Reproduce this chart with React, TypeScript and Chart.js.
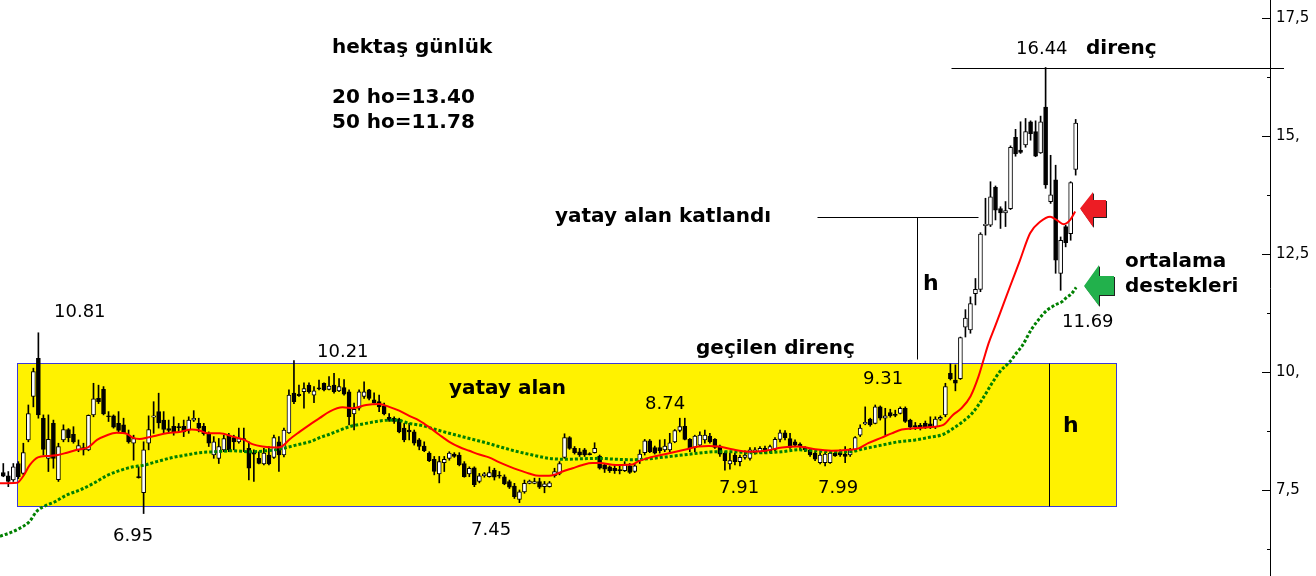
import React, { useEffect, useRef } from 'react';
import { Chart, registerables } from 'chart.js';

Chart.register(...registerables);

// ---- candle data (daily OHLC) ----
const openP = [
  7.88, 7.81, 7.72, 8.07, 7.86, 8.57, 9.49, 10.30, 9.03, 8.18, 8.92, 7.73, 8.57, 8.79, 8.69, 8.36, 8.41, 8.36, 9.10, 9.45,
  9.64, 9.08, 9.08, 8.92, 8.89, 8.67, 8.50, 7.78, 7.45, 8.50, 9.05, 9.17, 8.99, 8.81, 8.86, 8.84, 8.86, 8.78, 8.99, 8.92,
  8.86, 8.70, 8.25, 8.18, 8.36, 8.67, 8.62, 8.53, 8.60, 8.39, 8.30, 8.18, 8.06, 8.25, 8.20, 8.53, 8.25, 8.72, 9.56, 9.54,
  9.59, 9.73, 9.52, 9.66, 9.77, 9.64, 9.73, 9.61, 9.68, 9.59, 9.12, 9.24, 9.49, 9.63, 9.42, 9.38, 9.29, 9.05, 9.03, 9.01,
  8.82, 8.78, 8.74, 8.57, 8.44, 8.29, 8.16, 7.85, 8.09, 8.18, 8.27, 8.25, 8.07, 7.85, 7.98, 7.69, 7.81, 7.79, 7.93, 7.81,
  7.79, 7.69, 7.59, 7.31, 7.47, 7.65, 7.65, 7.69, 7.58, 7.58, 7.81, 7.86, 8.20, 8.62, 8.39, 8.32, 8.36, 8.27, 8.30, 8.23,
  8.04, 8.00, 7.97, 7.93, 7.92, 8.02, 7.90, 8.13, 8.30, 8.55, 8.41, 8.41, 8.36, 8.36, 8.53, 8.77, 8.86, 8.58, 8.41, 8.46,
  8.57, 8.65, 8.58, 8.44, 8.29, 8.06, 8.25, 8.11, 8.20, 8.18, 8.30, 8.32, 8.39, 8.34, 8.37, 8.58, 8.72, 8.60, 8.53, 8.48,
  8.41, 8.36, 8.29, 8.09, 8.09, 8.09, 8.29, 8.30, 8.27, 8.25, 8.37, 8.67, 8.91, 9.01, 8.92, 9.27, 9.03, 9.15, 9.10, 9.13,
  9.24, 8.99, 8.86, 8.88, 8.92, 8.91, 8.85, 9.01, 9.10, 9.98, 9.84, 9.87, 10.96, 10.90, 11.67, 11.76, 13.11, 13.12, 13.92, 13.47,
  13.38, 13.47, 14.98, 14.71, 14.82, 15.31, 15.10, 14.65, 15.62, 13.62, 14.08, 12.10, 13.09, 12.94, 14.30,
];
const highP = [
  8.07, 7.90, 8.07, 8.11, 8.50, 9.31, 10.09, 10.84, 9.10, 9.10, 8.99, 8.50, 8.89, 8.81, 8.85, 8.57, 8.50, 9.10, 9.77, 9.73,
  9.70, 9.17, 9.10, 9.17, 9.03, 8.78, 8.67, 8.00, 8.53, 9.08, 9.38, 9.56, 9.17, 8.99, 9.06, 8.92, 8.99, 9.06, 9.19, 9.03,
  8.92, 8.74, 8.64, 8.60, 8.67, 8.71, 8.67, 8.82, 8.82, 8.53, 8.36, 8.32, 8.39, 8.43, 8.67, 8.64, 8.82, 9.63, 10.25, 9.73,
  9.78, 9.78, 9.70, 9.84, 9.78, 9.91, 9.98, 9.87, 9.85, 9.63, 9.35, 9.63, 9.80, 9.64, 9.57, 9.52, 9.35, 9.13, 9.06, 9.03,
  8.92, 8.92, 8.78, 8.60, 8.53, 8.32, 8.22, 8.22, 8.22, 8.32, 8.30, 8.30, 8.11, 8.00, 8.00, 7.86, 7.88, 8.00, 7.97, 7.90,
  7.83, 7.72, 7.65, 7.51, 7.72, 7.72, 7.76, 7.76, 7.69, 7.69, 7.97, 8.11, 8.70, 8.64, 8.43, 8.39, 8.39, 8.30, 8.51, 8.25,
  8.07, 8.02, 8.04, 8.02, 8.11, 8.07, 8.07, 8.36, 8.58, 8.58, 8.44, 8.57, 8.58, 8.71, 8.79, 9.03, 9.03, 8.60, 8.67, 8.74,
  8.78, 8.71, 8.60, 8.46, 8.32, 8.29, 8.29, 8.25, 8.34, 8.41, 8.41, 8.43, 8.44, 8.46, 8.62, 8.78, 8.77, 8.71, 8.57, 8.51,
  8.43, 8.39, 8.32, 8.30, 8.30, 8.32, 8.32, 8.36, 8.43, 8.39, 8.64, 8.89, 9.27, 9.03, 9.31, 9.29, 9.24, 9.22, 9.20, 9.27,
  9.27, 9.01, 8.94, 8.92, 8.97, 9.06, 9.06, 9.08, 9.77, 10.18, 10.16, 10.75, 11.33, 11.60, 11.99, 12.96, 13.69, 14.04, 13.95, 13.51,
  13.62, 14.80, 15.15, 15.31, 15.38, 15.33, 15.33, 15.43, 16.46, 14.60, 14.39, 12.87, 13.12, 14.04, 15.36,
];
const lowP = [
  7.79, 7.58, 7.69, 7.75, 7.83, 8.53, 9.27, 9.03, 8.25, 7.90, 7.97, 7.69, 8.53, 8.53, 8.50, 8.32, 8.25, 8.34, 9.06, 9.34,
  9.10, 8.96, 8.82, 8.74, 8.71, 8.50, 8.14, 7.76, 7.01, 8.36, 8.71, 8.82, 8.71, 8.71, 8.67, 8.74, 8.64, 8.71, 8.96, 8.74,
  8.67, 8.43, 8.18, 8.07, 8.32, 8.32, 8.36, 8.50, 8.32, 7.72, 7.69, 8.06, 8.04, 8.04, 8.18, 7.90, 8.21, 8.71, 9.34, 9.49,
  9.24, 9.56, 9.36, 9.63, 9.61, 9.63, 9.56, 9.59, 9.52, 8.89, 8.78, 9.20, 9.45, 9.42, 9.35, 9.17, 9.10, 8.96, 8.92, 8.72,
  8.53, 8.57, 8.46, 8.36, 8.32, 8.11, 7.83, 7.66, 7.90, 8.14, 8.20, 8.02, 7.78, 7.79, 7.58, 7.66, 7.78, 7.78, 7.72, 7.76,
  7.62, 7.54, 7.33, 7.24, 7.44, 7.64, 7.64, 7.54, 7.45, 7.57, 7.78, 7.83, 8.18, 8.37, 8.27, 8.22, 8.22, 8.25, 8.29, 7.95,
  7.88, 7.88, 7.86, 7.85, 7.90, 7.86, 7.88, 8.07, 8.25, 8.30, 8.27, 8.29, 8.32, 8.32, 8.51, 8.74, 8.57, 8.32, 8.32, 8.43,
  8.50, 8.50, 8.39, 8.22, 7.93, 7.95, 8.04, 8.02, 8.16, 8.14, 8.27, 8.29, 8.29, 8.30, 8.34, 8.53, 8.57, 8.39, 8.43, 8.36,
  8.32, 8.22, 8.13, 8.06, 8.02, 8.07, 8.22, 8.22, 8.09, 8.22, 8.34, 8.64, 8.89, 8.86, 8.91, 8.99, 8.67, 9.05, 9.06, 9.12,
  8.94, 8.79, 8.79, 8.78, 8.81, 8.81, 8.81, 8.98, 9.06, 9.84, 9.61, 9.85, 10.75, 10.83, 11.43, 11.71, 12.91, 13.09, 13.23, 13.05,
  13.09, 13.45, 14.58, 14.64, 14.77, 14.92, 14.57, 14.64, 13.90, 13.58, 12.10, 11.74, 12.66, 12.80, 14.18,
];
const closeP = [
  7.80, 7.69, 8.00, 7.79, 8.30, 9.13, 10.02, 9.10, 8.37, 8.58, 8.18, 8.43, 8.79, 8.62, 8.53, 8.45, 8.36, 9.09, 9.44, 9.38,
  9.12, 9.06, 8.84, 8.77, 8.72, 8.53, 8.60, 7.77, 8.36, 8.79, 9.08, 8.93, 8.79, 8.77, 8.74, 8.83, 8.74, 8.99, 9.03, 8.82,
  8.70, 8.50, 8.53, 8.43, 8.60, 8.36, 8.53, 8.60, 8.57, 7.97, 8.27, 8.07, 8.29, 8.06, 8.62, 8.25, 8.78, 9.52, 9.38, 9.51,
  9.66, 9.59, 9.61, 9.65, 9.63, 9.71, 9.59, 9.70, 9.54, 9.06, 9.22, 9.59, 9.59, 9.45, 9.36, 9.27, 9.12, 8.99, 8.96, 8.74,
  8.57, 8.74, 8.50, 8.43, 8.34, 8.13, 7.90, 8.11, 8.16, 8.29, 8.22, 8.04, 7.79, 7.97, 7.62, 7.81, 7.85, 7.88, 7.78, 7.80,
  7.64, 7.57, 7.37, 7.47, 7.65, 7.70, 7.69, 7.57, 7.64, 7.66, 7.90, 8.07, 8.62, 8.39, 8.30, 8.25, 8.25, 8.26, 8.39, 7.97,
  7.95, 7.92, 7.92, 7.92, 8.04, 7.88, 8.02, 8.27, 8.55, 8.32, 8.29, 8.34, 8.44, 8.51, 8.77, 8.85, 8.58, 8.39, 8.65, 8.67,
  8.67, 8.53, 8.41, 8.27, 8.13, 8.13, 8.11, 8.20, 8.25, 8.36, 8.36, 8.39, 8.32, 8.43, 8.58, 8.72, 8.62, 8.41, 8.46, 8.43,
  8.36, 8.25, 8.16, 8.25, 8.27, 8.29, 8.23, 8.25, 8.22, 8.36, 8.62, 8.82, 8.94, 8.89, 9.27, 9.03, 9.08, 9.08, 9.09, 9.24,
  8.96, 8.84, 8.85, 8.82, 8.85, 8.85, 9.01, 9.05, 9.70, 9.87, 9.77, 10.74, 11.15, 11.46, 11.76, 12.93, 13.14, 13.72, 13.44, 13.38,
  13.43, 14.77, 14.63, 14.66, 15.10, 15.06, 14.58, 15.31, 13.97, 13.76, 12.38, 12.80, 12.75, 14.02, 15.28,
];

// ---- moving averages (20 day red, 50 day green), sampled along the picture ----
const ma20X = [
  -0.66, 2.7, 3.9, 5.3, 6.9, 8.9, 10.9, 12.7, 14.7, 16.9, 18.7, 20.7, 22.6, 24.6, 25.8, 27.2, 28.8, 30.8, 32.6, 35.2,
  37.6, 39.2, 40.8, 43.2, 45.8, 48.1, 49.7, 51.7, 54.5, 55.7, 57.1, 59.1, 61.1, 63.1, 65.1, 67.7, 69.7, 72.4, 75.0, 77.0,
  79.0, 81.0, 83.0, 85.0, 87.0, 89.0, 91.0, 93.0, 95.0, 96.9, 98.9, 100.9, 102.9, 104.9, 106.9, 108.9, 110.2, 111.6, 113.6, 115.6,
  117.5, 119.0, 122.2, 125.5, 126.8, 128.8, 132.2, 135.5, 138.8, 140.8, 142.8, 145.4, 148.7, 152.1, 155.4, 158.7, 162.0, 165.3, 168.7, 170.7,
  172.6, 175.3, 177.3, 179.3, 182.0, 184.6, 187.6, 189.5, 191.2, 193.0, 194.6, 195.6, 196.6, 197.9, 198.9, 200.9, 202.9, 204.9, 206.9, 208.9,
  210.2, 211.6, 212.9, 213.9,
];
const ma20V = [
  7.65, 7.66, 7.79, 8.04, 8.20, 8.23, 8.25, 8.30, 8.36, 8.41, 8.57, 8.67, 8.72, 8.70, 8.62, 8.59, 8.62, 8.67, 8.71, 8.74,
  8.79, 8.77, 8.71, 8.71, 8.64, 8.57, 8.48, 8.43, 8.41, 8.44, 8.58, 8.74, 8.89, 9.03, 9.17, 9.26, 9.24, 9.31, 9.33, 9.27,
  9.19, 9.08, 8.98, 8.84, 8.68, 8.53, 8.42, 8.34, 8.26, 8.20, 8.10, 8.01, 7.93, 7.86, 7.81, 7.81, 7.84, 7.90, 7.97, 8.04,
  8.08, 8.08, 8.04, 8.05, 8.12, 8.19, 8.27, 8.35, 8.43, 8.44, 8.43, 8.37, 8.32, 8.34, 8.41, 8.43, 8.37, 8.34, 8.36, 8.39,
  8.50, 8.62, 8.71, 8.79, 8.82, 8.84, 8.89, 9.10, 9.24, 9.49, 9.91, 10.26, 10.61, 10.97, 11.25, 11.82, 12.38, 12.95, 13.19, 13.30,
  13.23, 13.14, 13.23, 13.41,
];
const ma50X = [
  -0.66, 1.3, 3.3, 5.3, 6.6, 8.3, 10.3, 12.6, 15.3, 18.0, 20.6, 23.2, 25.9, 27.9, 30.6, 33.9, 36.5, 39.2, 42.5, 45.8,
  49.1, 52.5, 55.8, 58.4, 61.1, 63.7, 65.1, 69.1, 72.4, 75.7, 78.4, 81.0, 83.7, 86.3, 89.0, 92.3, 95.6, 98.9, 102.3, 105.6,
  108.9, 112.2, 115.5, 118.9, 122.2, 125.5, 128.8, 132.2, 135.5, 138.8, 142.1, 145.4, 148.7, 152.1, 155.4, 158.7, 162.0, 165.3, 168.7, 172.0,
  175.3, 178.6, 182.0, 184.6, 187.6, 189.5, 191.5, 193.3, 195.3, 197.3, 198.9, 200.9, 202.1, 203.3, 205.1, 206.1, 207.3, 208.3, 209.3, 210.3,
  211.3, 212.2, 213.1, 214.1,
];
const ma50V = [
  6.53, 6.60, 6.70, 6.85, 7.05, 7.17, 7.26, 7.40, 7.51, 7.65, 7.81, 7.92, 8.00, 8.03, 8.11, 8.20, 8.25, 8.30, 8.32, 8.34,
  8.32, 8.34, 8.39, 8.46, 8.53, 8.64, 8.69, 8.85, 8.92, 8.98, 8.99, 8.92, 8.87, 8.79, 8.71, 8.62, 8.53, 8.43, 8.33, 8.25,
  8.18, 8.16, 8.17, 8.18, 8.16, 8.15, 8.17, 8.21, 8.25, 8.29, 8.32, 8.32, 8.30, 8.30, 8.32, 8.36, 8.34, 8.32, 8.32, 8.39,
  8.46, 8.53, 8.57, 8.62, 8.69, 8.81, 8.96, 9.13, 9.42, 9.77, 10.02, 10.23, 10.40, 10.56, 10.90, 11.05, 11.21, 11.32, 11.39, 11.45,
  11.50, 11.59, 11.66, 11.80,
];

// ---- axis ----
const tickValues = [7.5, 10, 12.5, 15, 17.5];
const tickLabels = ['7,5', '10,', '12,5', '15,', '17,5'];
const minorTickValues = [6.25, 8.75, 11.25, 13.75, 16.25];
const yMin = 5.687;
const yMax = 17.89;
const xMin = -0.659;
const xMax = 252.78;

// ---- chart annotations (price levels) ----
const rangeX = [2.79, 222.1];
const rangeY = [7.17, 10.21];
const resistanceLevel = 16.45;
const resistanceFromX = 189.2;
const doubledLevel = 13.29;
const doubledX = [162.3, 194.5];
const doubledDropX = 182.4;
const doubledDropBottom = 10.28;
const rangeHeightX = 208.7;

type Note = [string, number, number, 'b' | 'n' | 'h'];
const notes: Note[] = [
  ['hektaş günlük', 332, 53, 'b'],
  ['20 ho=13.40', 332, 103, 'b'],
  ['50 ho=11.78', 332, 128, 'b'],
  ['16.44', 1016, 54, 'n'],
  ['direnç', 1086, 54, 'b'],
  ['yatay alan katlandı', 555, 222, 'b'],
  ['h', 923, 290, 'h'],
  ['geçilen direnç', 696, 354, 'b'],
  ['9.31', 863, 384, 'n'],
  ['yatay alan', 449, 394, 'b'],
  ['8.74', 645, 409, 'n'],
  ['10.81', 54, 317, 'n'],
  ['10.21', 317, 357, 'n'],
  ['6.95', 113, 541, 'n'],
  ['7.45', 471, 535, 'n'],
  ['7.91', 719, 493, 'n'],
  ['7.99', 818, 493, 'n'],
  ['11.69', 1062, 327, 'n'],
  ['ortalama', 1125, 267, 'b'],
  ['destekleri', 1125, 292, 'b'],
  ['h', 1063, 432, 'h'],
];

const FONT = '"DejaVu Sans", Verdana, sans-serif';

function drawArrow(ctx: CanvasRenderingContext2D, tipX: number, tipY: number, headX: number, headTop: number, headBot: number, tailX: number, shaftTop: number, shaftBot: number, color: string) {
  const path = (dx: number, dy: number) => {
    ctx.beginPath();
    ctx.moveTo(tipX + dx, tipY + dy);
    ctx.lineTo(headX + dx, headTop + dy);
    ctx.lineTo(headX + dx, shaftTop + dy);
    ctx.lineTo(tailX + dx, shaftTop + dy);
    ctx.lineTo(tailX + dx, shaftBot + dy);
    ctx.lineTo(headX + dx, shaftBot + dy);
    ctx.lineTo(headX + dx, headBot + dy);
    ctx.closePath();
  };
  ctx.fillStyle = '#202020';
  path(1, 1);
  ctx.fill();
  ctx.fillStyle = color;
  path(0, 0);
  ctx.fill();
}

const annotationPlugin = {
  id: 'annotations',
  beforeDatasetsDraw(chart: any) {
    const { ctx, scales } = chart;
    const x = scales.x, y = scales.y;
    const l = Math.round(x.getPixelForValue(rangeX[0]));
    const r = Math.round(x.getPixelForValue(rangeX[1]));
    const t = Math.round(y.getPixelForValue(rangeY[1]));
    const b = Math.round(y.getPixelForValue(rangeY[0]));
    ctx.save();
    ctx.fillStyle = '#fff200';
    ctx.fillRect(l, t, r - l, b - t);
    ctx.strokeStyle = '#3a3ad8';
    ctx.lineWidth = 1;
    ctx.strokeRect(l + 0.5, t + 0.5, r - l, b - t);
    ctx.restore();
  },
  afterDraw(chart: any) {
    const { ctx, scales, chartArea } = chart;
    const x = scales.x, y = scales.y;
    const px = (v: number) => Math.round(x.getPixelForValue(v)) + 0.5;
    const py = (v: number) => Math.round(y.getPixelForValue(v)) + 0.5;
    ctx.save();
    ctx.strokeStyle = '#000';
    ctx.lineWidth = 1;
    const line = (x1: number, y1: number, x2: number, y2: number) => {
      ctx.beginPath();
      ctx.moveTo(x1, y1);
      ctx.lineTo(x2, y2);
      ctx.stroke();
    };
    // axis ticks (drawn inside)
    const ax = chartArea.right;
    tickValues.forEach((v) => line(ax - 8, py(v), ax, py(v)));
    minorTickValues.forEach((v) => line(ax - 3, py(v), ax, py(v)));
    // resistance line
    line(px(resistanceFromX), py(resistanceLevel), ax + 14, py(resistanceLevel));
    // doubled range target
    line(px(doubledX[0]), py(doubledLevel), px(doubledX[1]), py(doubledLevel));
    line(px(doubledDropX), py(doubledLevel), px(doubledDropX), py(doubledDropBottom));
    // range height
    line(px(rangeHeightX), py(rangeY[1]), px(rangeHeightX), py(rangeY[0]));

    // arrows
    drawArrow(ctx, 1080, 208.5, 1093, 192, 227, 1106, 200, 217, '#ed1c24');
    drawArrow(ctx, 1084, 286, 1099, 265, 306, 1114, 276, 295, '#22b14c');

    // texts
    ctx.fillStyle = '#000';
    ctx.textBaseline = 'alphabetic';
    ctx.textAlign = 'left';
    notes.forEach(([text, tx, ty, kind]) => {
      ctx.font = kind === 'b' ? `bold 20px ${FONT}` : kind === 'h' ? `bold 22px ${FONT}` : `18px ${FONT}`;
      ctx.fillText(text, tx, ty);
    });
    ctx.restore();
  },
};

export default function App() {
  const canvasRef = useRef<HTMLCanvasElement | null>(null);

  useEffect(() => {
    document.body.style.margin = '0';
    const canvas = canvasRef.current;
    if (!canvas) return;

    const bodies = openP.map((o, i) => ({ x: i, y: [o, closeP[i]] }));
    const wicks = lowP.map((l, i) => ({ x: i, y: [l, highP[i]] }));
    const bodyColors = openP.map((o, i) => (closeP[i] >= o ? '#ffffff' : '#000000'));
    const ma20 = ma20X.map((xv, i) => ({ x: xv, y: ma20V[i] }));
    const ma50 = ma50X.map((xv, i) => ({ x: xv, y: ma50V[i] }));

    const chart = new Chart(canvas, {
      type: 'bar',
      data: {
        datasets: [
          {
            type: 'line',
            data: ma20 as any,
            borderColor: '#ff0000',
            borderWidth: 2,
            pointRadius: 0,
            cubicInterpolationMode: 'monotone',
            fill: false,
            order: 0,
          } as any,
          {
            type: 'line',
            data: ma50 as any,
            borderColor: '#008000',
            borderWidth: 3,
            borderDash: [3, 2],
            borderCapStyle: 'butt',
            pointRadius: 0,
            cubicInterpolationMode: 'monotone',
            fill: false,
            order: 0,
          } as any,
          {
            type: 'bar',
            data: bodies as any,
            backgroundColor: bodyColors,
            borderColor: '#000000',
            borderWidth: 1,
            borderSkipped: false,
            barThickness: 4,
            minBarLength: 1,
            grouped: false,
            order: 1,
          } as any,
          {
            type: 'bar',
            data: wicks as any,
            backgroundColor: '#000000',
            borderWidth: 0,
            barThickness: 1,
            grouped: false,
            order: 2,
          } as any,
        ],
      },
      options: {
        animation: false,
        responsive: false,
        events: [],
        layout: { padding: 0 },
        plugins: {
          legend: { display: false },
          tooltip: { enabled: false },
        },
        scales: {
          x: {
            type: 'linear',
            display: false,
            min: xMin,
            max: xMax,
            offset: false,
            grid: { display: false },
          },
          y: {
            type: 'linear',
            position: 'right',
            min: yMin,
            max: yMax,
            grid: { display: false, drawTicks: false },
            border: { display: true, color: '#000000', width: 1 },
            afterBuildTicks: (scale: any) => {
              scale.ticks = tickValues.map((v) => ({ value: v }));
            },
            afterFit: (scale: any) => {
              scale.width = 46;
              scale.paddingTop = 0;
              scale.paddingBottom = 0;
            },
            ticks: {
              padding: 6,
              color: '#000000',
              font: { family: FONT, size: 15 },
              callback: (value: any) => {
                const idx = tickValues.indexOf(Number(value));
                return idx >= 0 ? tickLabels[idx] : '';
              },
            },
          } as any,
        },
      },
      plugins: [annotationPlugin],
    });

    return () => chart.destroy();
  }, []);

  return (
    <div style={{ position: 'fixed', left: 0, top: 0, width: 1316, height: 576, background: '#ffffff' }}>
      <canvas ref={canvasRef} width={1316} height={576} style={{ display: 'block' }} />
    </div>
  );
}
